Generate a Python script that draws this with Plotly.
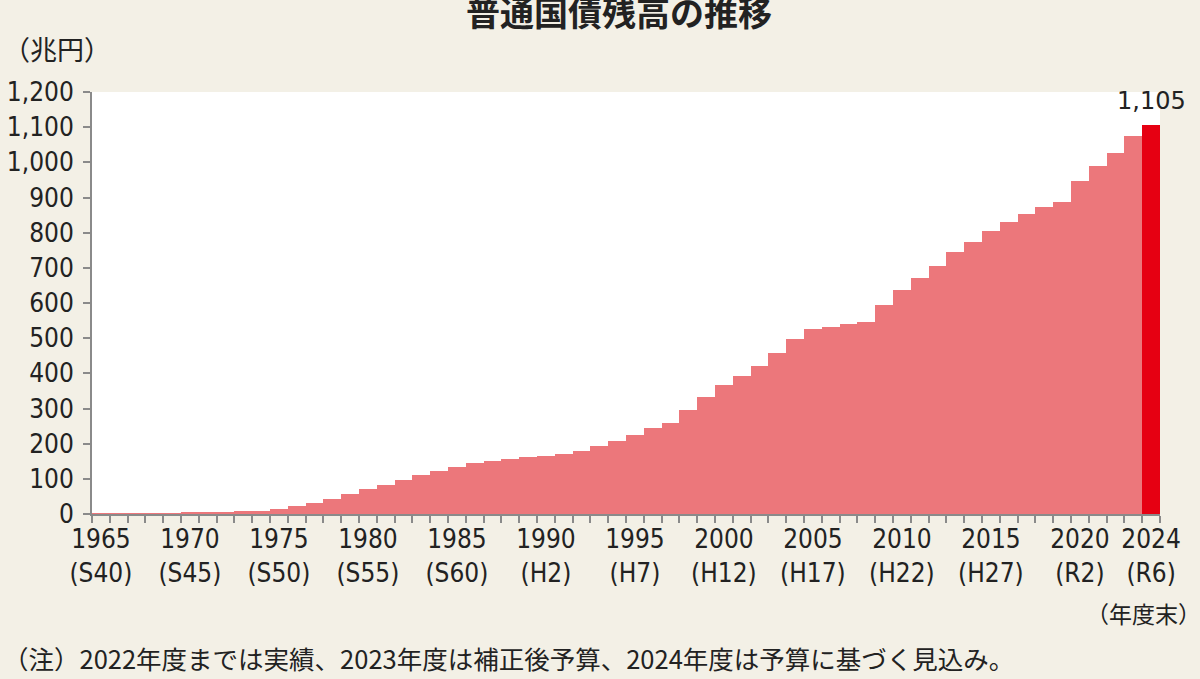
import plotly.graph_objects as go

# 普通国債残高（兆円）, 1965〜2024年度末
years = list(range(1965, 2025))
debt = [0.2, 0.9, 1.9, 2.4, 2.8, 3.2, 4.0, 5.8, 7.5, 9.7,
        15, 22, 32, 43, 56, 71, 82, 96, 110, 122,
        134, 145, 152, 157, 161, 166, 172, 178, 193, 207,
        225, 245, 258, 295, 332, 368, 392, 421, 457, 499,
        527, 532, 541, 546, 594, 636, 670, 705, 744, 774,
        805, 831, 853, 874, 887, 947, 991, 1027, 1076, 1105]

label_years = [1965, 1970, 1975, 1980, 1985, 1990, 1995, 2000, 2005, 2010, 2015, 2020, 2024]
era_labels = ["S40", "S45", "S50", "S55", "S60", "H2", "H7", "H12", "H17", "H22", "H27", "R2", "R6"]
y_ticks = list(range(0, 1201, 100))

bar_color = "#EC777B"
last_color = "#E60012"
bg = "#F3F0E6"
axis_grey = "#8A8A8A"
txt = "#222222"
num_font = "DejaVu Sans Condensed, DejaVu Sans, sans-serif"
jp_font = "Noto Sans CJK JP, sans-serif"

colors = [bar_color] * (len(years) - 1) + [last_color]

fig = go.Figure()
fig.add_trace(go.Bar(x=years, y=debt, marker=dict(color=colors, line=dict(width=0)),
                     width=1.0, hoverinfo="x+y"))

fig.update_layout(
    width=1200, height=679,
    paper_bgcolor=bg, plot_bgcolor="white",
    margin=dict(l=92, r=40, t=92, b=165),
    showlegend=False, bargap=0,
    xaxis=dict(
        range=[1964.5, 2024.5], automargin=False,
        tickmode="array", tickvals=label_years,
        ticktext=[f"{y}<br>({e})" for y, e in zip(label_years, era_labels)],
        ticks="outside", ticklen=1, tickcolor="rgba(0,0,0,0)",
        tickfont=dict(family=num_font, size=26, color=txt),
        showline=True, linecolor=axis_grey, linewidth=2,
        showgrid=False, zeroline=False,
        minor=dict(tick0=1964.5, dtick=1, ticks="outside", ticklen=7,
                   tickcolor=axis_grey, tickwidth=1.5, showgrid=False),
    ),
    yaxis=dict(
        range=[0, 1200], automargin=False,
        tickmode="array", tickvals=y_ticks, tickformat=",",
        ticks="outside", ticklen=7, tickcolor=axis_grey, tickwidth=1.5,
        ticklabelstandoff=4,
        tickfont=dict(family=num_font, size=26, color=txt),
        showline=True, linecolor=axis_grey, linewidth=2,
        showgrid=False, zeroline=False,
    ),
)

# title (sits at the very top edge like the reference)
fig.add_annotation(text="<b>普通国債残高の推移</b>", xref="paper", yref="paper",
                   x=0.493, y=1.19, xanchor="center", yanchor="middle", showarrow=False,
                   font=dict(family=jp_font, size=34, color=txt))
fig.add_annotation(text="（兆円）", xref="paper", yref="paper",
                   x=-0.085, y=1.104, xanchor="left", yanchor="middle", showarrow=False,
                   font=dict(family=jp_font, size=27, color=txt))
fig.add_annotation(text="1,105", x=years[-1], y=debt[-1], xanchor="center", yanchor="bottom",
                   yshift=8, showarrow=False,
                   font=dict(family="DejaVu Sans, sans-serif", size=24, color=txt))
fig.add_annotation(text="（年度末）", xref="paper", yref="paper",
                   x=1.04, y=-0.235, xanchor="right", yanchor="middle", showarrow=False,
                   font=dict(family=jp_font, size=23, color=txt))
fig.add_annotation(text="（注）2022年度までは実績、2023年度は補正後予算、2024年度は予算に基づく見込み。",
                   xref="paper", yref="paper", x=-0.085, y=-0.339,
                   xanchor="left", yanchor="middle", showarrow=False,
                   font=dict(family=jp_font, size=25.5, color=txt))

fig.write_html("out.html", config={"displayModeBar": False},
               post_script="document.body.style.margin='0';")
